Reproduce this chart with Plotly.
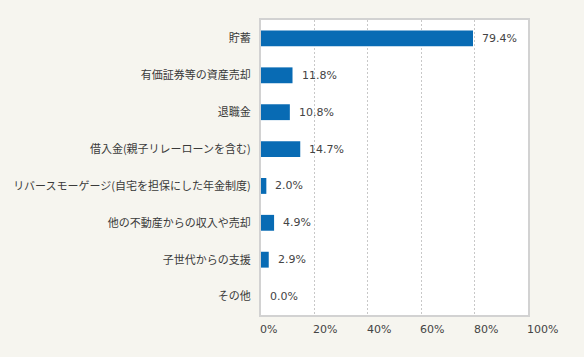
import plotly.graph_objects as go

categories = ["貯蓄", "有価証券等の資産売却", "退職金", "借入金(親子リレーローンを含む)",
              "リバースモーゲージ(自宅を担保にした年金制度)", "他の不動産からの収入や売却",
              "子世代からの支援", "その他"]
values = [79.4, 11.8, 10.8, 14.7, 2.0, 4.9, 2.9, 0.0]
tick_values = [0, 20, 40, 60, 80, 100]
tick_labels = ["0%", "20%", "40%", "60%", "80%", "100%"]

FONT = "Noto Sans CJK JP"
NUMFONT = "DejaVu Sans"
TXT = "#3a3a3a"

fig = go.Figure()
fig.add_trace(go.Bar(
    y=categories, x=values, orientation="h",
    marker=dict(color="#086bb4", line=dict(width=0)),
    width=0.43, hoverinfo="skip",
))

for c, v in zip(categories, values):
    fig.add_annotation(x=v, y=c, xref="x", yref="y", text=f"{v:.1f}%",
                       showarrow=False, xanchor="left", xshift=7,
                       font=dict(family=NUMFONT, size=11, color="#444"))

for tv, tl in zip(tick_values, tick_labels):
    fig.add_annotation(x=tv, y=0, xref="x", yref="paper", text=tl,
                       showarrow=False, xanchor="left", yanchor="top",
                       xshift=-3, yshift=-6,
                       font=dict(family=NUMFONT, size=11, color="#444"))

fig.update_layout(
    width=584, height=357,
    margin=dict(l=261, r=56, t=20, b=42),
    paper_bgcolor="#f6f5ef", plot_bgcolor="#ffffff",
    showlegend=False,
    font=dict(family=FONT, size=11, color=TXT),
    xaxis=dict(range=[0, 100], tickvals=tick_values, showticklabels=False,
               showgrid=True, gridcolor="#c8c8c8", griddash="2px,2px", gridwidth=1,
               zeroline=False, showline=True, mirror=True,
               linecolor="#d2d2d2", linewidth=2, fixedrange=True),
    yaxis=dict(categoryorder="array", categoryarray=categories,
               autorange="reversed", showgrid=False, zeroline=False,
               showline=True, mirror=True, linecolor="#d2d2d2", linewidth=2,
               ticks="", ticklabelstandoff=6,
               tickfont=dict(family=FONT, size=11, color=TXT), fixedrange=True),
)

fig.write_html("out.html")
